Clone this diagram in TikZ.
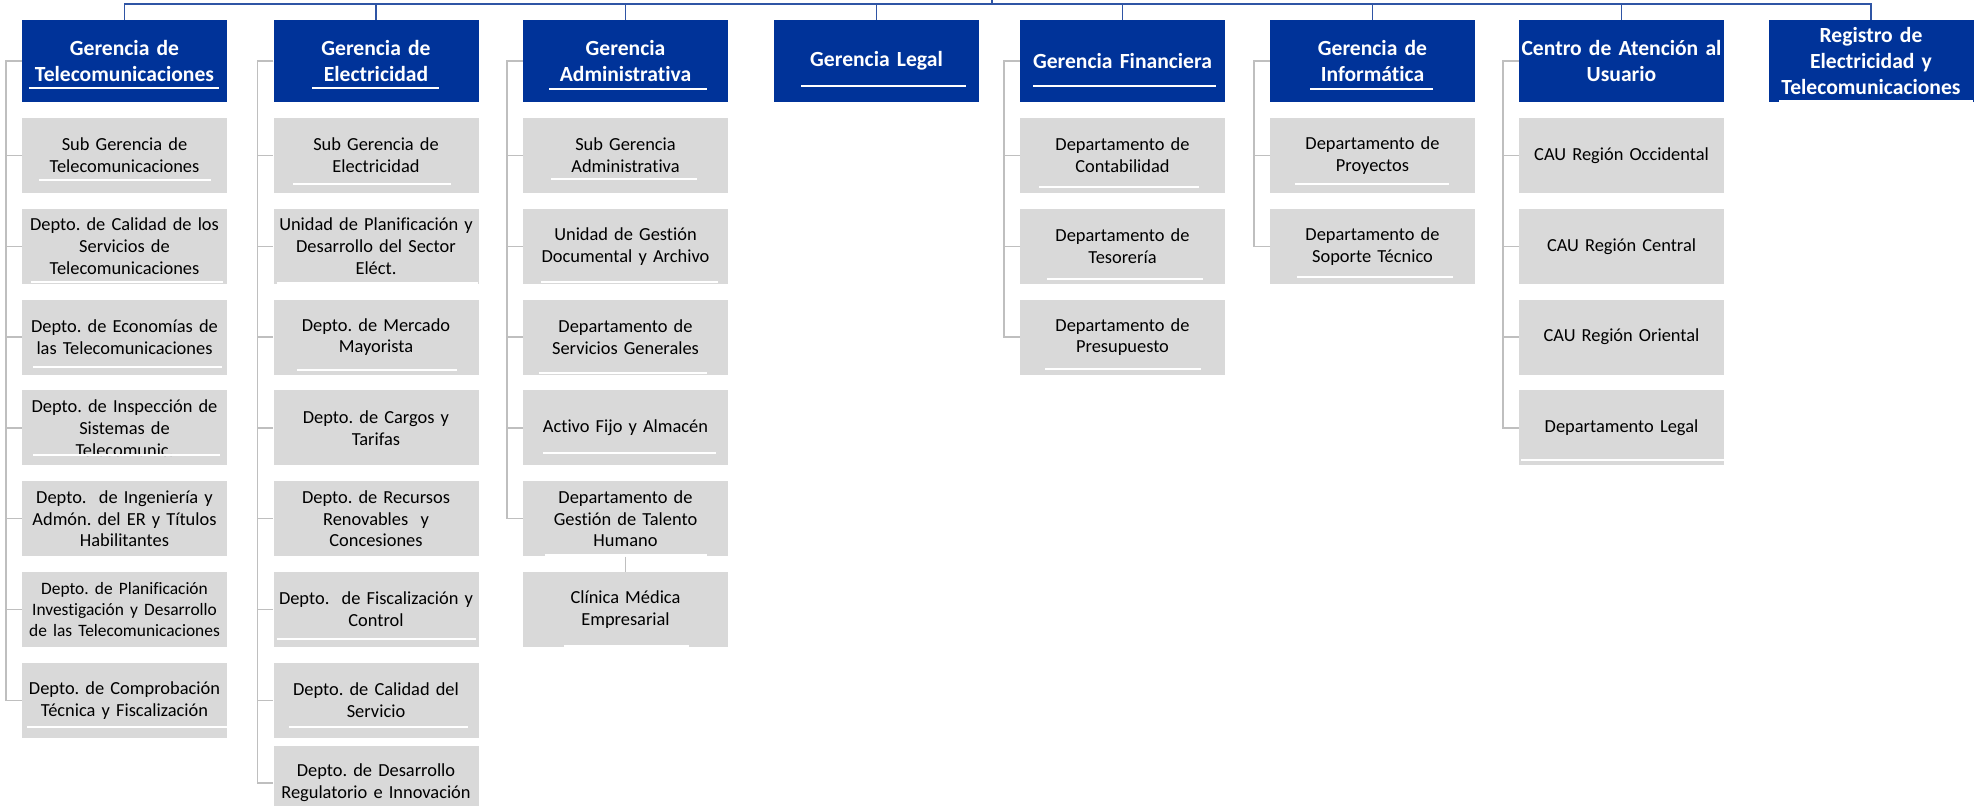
\documentclass[tikz,border=0pt]{standalone}
\usepackage{fontspec}
\setmainfont{Carlito}[Ligatures=NoCommon]
\usetikzlibrary{calc,positioning}

\definecolor{gblue}{RGB}{0,51,153}
\definecolor{bline}{RGB}{47,85,165}
\definecolor{gbox}{RGB}{217,217,217}
\definecolor{gline}{RGB}{191,191,191}
\frenchspacing

\begin{document}
\begin{tikzpicture}[x=0.5pt,y=-0.5pt,
    head/.style={fill=gblue,text=white,font=\bfseries\fontsize{10.8}{12.8}\selectfont,
      minimum width=102.5pt,minimum height=41pt,text width=101pt,align=center,inner sep=0.5pt},
    unit/.style={fill=gbox,font=\fontsize{9.2}{10.9}\selectfont,
      minimum width=102.5pt,minimum height=37.5pt,text width=100pt,align=center,inner sep=1pt},
    tie/.style={draw=gline,line width=0.7pt},
    bus/.style={draw=bline,line width=0.7pt},
    gap/.style={draw=white,line width=0.8pt}]
		\useasboundingbox (0,0) rectangle (1982,805);

		\foreach \n/\x/\t in {1/124.5/{Gerencia de\\Telecomunicaciones},
		                      2/376/{Gerencia de\\Electricidad},
		                      3/625.5/{Gerencia\\Administrativa},
		                      4/876.5/{Gerencia Legal},
		                      5/1122.5/{Gerencia Financiera},
		                      6/1372.5/{Gerencia de\\Informática},
		                      7/1621.5/{Centro de Atención al\\Usuario},
		                      8/1871/{Registro de\\Electricidad y\\Telecomunicaciones}} {
			\node[head] (h\n) at (\x,61) {\t};
		}

		\foreach \c/\r/\t in {1/1/{Sub Gerencia de\\Telecomunicaciones},
		                      1/2/{Depto. de Calidad de los\\Servicios de\\Telecomunicaciones},
		                      1/3/{Depto. de Economías de\\las Telecomunicaciones},
		                      1/4/{Depto. de Inspección de\\Sistemas de\\Telecomunic.},
		                      1/5/{Depto.~~de Ingeniería y\\Admón. del ER y Títulos\\Habilitantes},
		                      1/6/{\fontsize{8.7}{10.5}\selectfont Depto. de Planificación\\Investigación y Desarrollo\\de las Telecomunicaciones},
		                      1/7/{Depto. de Comprobación\\Técnica y Fiscalización},
		                      2/1/{Sub Gerencia de\\Electricidad},
		                      2/2/{Unidad de Planificación y\\Desarrollo del Sector\\Eléct.},
		                      2/3/{Depto. de Mercado\\Mayorista},
		                      2/4/{Depto. de Cargos y\\Tarifas},
		                      2/5/{Depto. de Recursos\\Renovables~~y\\Concesiones},
		                      2/6/{Depto.~~de Fiscalización y\\Control},
		                      2/7/{Depto. de Calidad del\\Servicio},
		                      3/1/{Sub Gerencia\\Administrativa},
		                      3/2/{Unidad de Gestión\\Documental y Archivo},
		                      3/3/{Departamento de\\Servicios Generales},
		                      3/4/{Activo Fijo y Almacén},
		                      3/5/{Departamento de\\Gestión de Talento\\Humano},
		                      3/6/{Clínica Médica\\Empresarial},
		                      5/1/{Departamento de\\Contabilidad},
		                      5/2/{Departamento de\\Tesorería},
		                      5/3/{Departamento de\\Presupuesto},
		                      6/1/{Departamento de\\Proyectos},
		                      6/2/{Departamento de\\Soporte Técnico},
		                      7/1/{CAU Región Occidental},
		                      7/2/{CAU Región Central},
		                      7/3/{CAU Región Oriental},
		                      7/4/{Departamento Legal}} {
			\node[unit] (c\c-\r) at ($(h\c)+(0,3.7+90.8*\r)$) {\t};
		}
		\node[unit] (c2-8) at ($(h2)+(0,722)$) {Depto. de Desarrollo\\Regulatorio e Innovación};

		% blue bus on top, grey ties down the left of each column
		\coordinate (top) at (992,0);
		\coordinate (bus) at (992,4);
		\draw[bus] (top) -- (bus);
		\foreach \n in {1,...,8} {
			\draw[bus] (h\n.north) |- (bus);
		}
		\foreach \c/\m in {1/7,2/8,3/5,5/3,6/2,7/4} {
			\foreach \r in {1,...,\m} {
				\draw[tie] (h\c.west) -- ++(-15.5,0) |- (c\c-\r.west);
			}
		}
		\draw[tie] (c3-5.south) -- (c3-6.north);

		\foreach \a/\b/\y in {29/219/88, 39/211/180, 31/223/282, 33/222/367, 33/220/455, 27/229/727,
		                      312/439/88, 293/451/184, 277/478/283, 297/457/370, 277/476/639, 289/468/727,
		                      549/707/89, 551/697/179, 541/718/282, 539/707/373, 543/716/453, 545/707/555, 564/689/646,
		                      801/966/86, 1033/1216/86, 1039/1199/187, 1047/1203/279, 1045/1201/369,
		                      1310/1433/89, 1295/1449/184, 1297/1453/277, 1521/1726/460, 1779/1973/101} {
			\draw[gap] (\a,\y) -- (\b,\y);
		}
\end{tikzpicture}
\end{document}
